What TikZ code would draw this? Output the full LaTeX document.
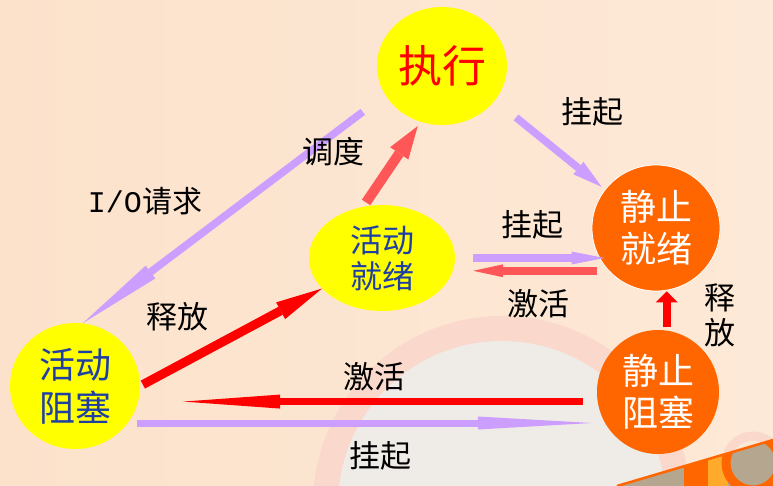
\documentclass[tikz,border=0pt]{standalone}
\usepackage{fontspec}
\newfontfamily\cjk{Noto Sans CJK SC}
\newfontfamily\lmono{Liberation Mono}
\usepackage{tikz}
\usetikzlibrary{arrows.meta,shapes.geometric,calc}
\usepackage{xcolor}
\definecolor{bgpeach}{HTML}{FCE2CB}
\definecolor{bglight}{HTML}{FDE9D7}
\definecolor{bgpale}{HTML}{EFEBE6}
\definecolor{bgring}{HTML}{FAD8CC}
\definecolor{bgtan}{HTML}{B4A68F}
\definecolor{bgamber}{HTML}{FFAA2A}
\definecolor{syellow}{HTML}{FFFF00}
\definecolor{sorange}{HTML}{FF6600}
\definecolor{sblue}{HTML}{1F3FA3}
\definecolor{apurple}{HTML}{CC9EFF}
\definecolor{ared}{HTML}{FF0000}
\definecolor{alred}{HTML}{FF5757}

\begin{document}
\begin{tikzpicture}[x=1pt, y=-1pt,
  state/.style={ellipse, inner sep=0pt, align=center},
  active/.style={state, fill=syellow, text=sblue},
  still/.style={state, fill=sorange, text=white},
  lbl/.style={font=\cjk\fontsize{31}{35}\selectfont, text=black, inner sep=0pt},
  parrow/.style={draw=apurple, line width=7.5pt, -{Triangle[length=30pt,width=16pt,line width=0pt]}},
  rarrow/.style={draw=ared, line width=8pt, -{Triangle[length=30pt,width=16pt,line width=0pt]}},
  lrarrow/.style={draw=alred, line width=8pt, -{Triangle[length=30pt,width=14pt,line width=0pt]}}]
\useasboundingbox (0,0) rectangle (773,486);
% background
\shade[left color=bgpeach, right color=bglight] (0,0) rectangle (773,486);
\begin{scope}
  \clip (0,0) rectangle (773,486);
  \fill[bgring] (502,505) circle (189pt);
  \fill[bgpale] (502,505) circle (164pt);
  \draw[bgring, line width=9pt] (753,463) circle (27pt);
  \begin{scope}
    \clip (617,486) -- (773,440) -- (773,486) -- cycle;
    \fill[bgtan] (600,420) rectangle (773,486);
    \fill[sorange] (684,420) rectangle (708,486);
    \fill[bgamber] (708,420) rectangle (728,486);
    \draw[sorange, line width=9pt] (753,463) circle (27pt);
  \end{scope}
  \draw[sorange, line width=2.5pt] (617,486) -- (773,440);
\end{scope}
% states
\node[state, fill=syellow, text=red, minimum width=130pt, minimum height=118pt,
  font=\cjk\fontsize{44}{48}\selectfont] (exec) at (442,66) {执行};
\node[active, minimum width=146pt, minimum height=106pt,
  font=\cjk\fontsize{32}{36}\selectfont] (aready) at (382,258) {活动\\就绪};
\node[active, minimum width=130pt, minimum height=126pt,
  font=\cjk\fontsize{36}{43}\selectfont] (ablock) at (75,386) {活动\\阻塞};
\node[still, draw=white, line width=0.8pt, minimum width=128pt, minimum height=126pt,
  font=\cjk\fontsize{36}{42}\selectfont] (sready) at (656,228) {静止\\就绪};
\node[still, minimum width=122pt, minimum height=124pt,
  font=\cjk\fontsize{36}{42}\selectfont] (sblock) at (658,392) {静止\\阻塞};
% transitions
\draw[parrow, shorten <=28pt, -{Triangle[length=85pt,width=16pt,line width=0pt]}] (exec.207) -- (ablock.83);
\draw[lrarrow, line width=10pt, shorten <=5pt, shorten >=5pt,
  -{Triangle[length=33pt,width=22pt,line width=0pt]}] (aready.110) -- (exec.249);
\draw[parrow, shorten <=27pt, shorten >=4pt] (exec.327) -- (sready.143);
\draw[parrow, line width=7pt, shorten <=18pt, shorten >=-13pt,
  -{Triangle[length=33pt,width=13pt,line width=0pt]}] (aready.east) -- (aready.east -| sready.west);
\draw[lrarrow, shorten <=11pt, shorten >=18pt,
  -{Triangle[length=30pt,width=13pt,line width=0pt]}] (sready.222) -- (sready.222 -| aready.east);
\draw[rarrow, line width=9pt, shorten <=3pt,
  -{Triangle[length=47pt,width=19pt,line width=0pt]}] (ablock.east) -- (aready.207);
\draw[rarrow, line width=7pt, shorten <=15pt, shorten >=43pt,
  -{Triangle[length=97pt,width=14pt,line width=0pt]}] (sblock.189) -- (sblock.189 -| ablock.east);
\draw[parrow, line width=7pt, shorten <=9pt, shorten >=5pt,
  -{Triangle[length=114pt,width=13pt,line width=0pt]}] (ablock.325) -- (ablock.325 -| sblock.west);
\draw[rarrow, shorten <=3pt, -{Triangle[length=11pt,width=22pt,line width=0pt]}] (sblock.82) -- (sblock.82 |- sready.south);
% labels
\node[lbl] (lsus1) at (592,112) {挂起};
\node[lbl] (lsched) at (333,152) {调度};
\node[lbl, font=\cjk\fontsize{30}{34}\selectfont] (lio) at (145,201) {{\lmono I/O}请求};
\node[lbl] (lsus2) at (532,225) {挂起};
\node[lbl] (lact1) at (538,304) {激活};
\node[lbl] (lrel1) at (177,317) {释放};
\node[lbl] (lact2) at (374,377) {激活};
\node[lbl] (lsus3) at (380,456) {挂起};
\node[lbl, align=center] (lrel2) at (720,315) {释\\放};
\end{tikzpicture}
\end{document}
